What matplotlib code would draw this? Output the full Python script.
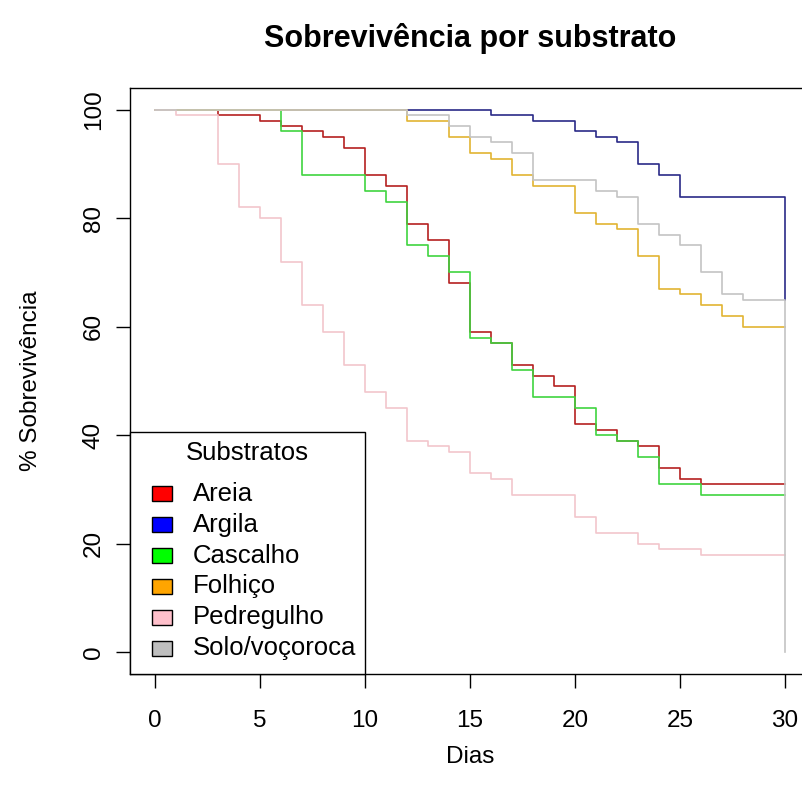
import matplotlib
matplotlib.use("Agg")
import matplotlib.pyplot as plt
from matplotlib.patches import Rectangle

plt.rcParams["font.family"] = ["Liberation Sans", "DejaVu Sans"]

# survival curves (% alive) per substrate, step changes by day
areia_t = [0, 3, 5, 6, 7, 8, 9, 10, 11, 12, 13, 14, 15, 16, 17, 18, 19, 20, 21, 22, 23, 24, 25, 26, 30]
areia_v = [100, 99, 98, 97, 96, 95, 93, 88, 86, 79, 76, 68, 59, 57, 53, 51, 49, 42, 41, 39, 38, 34, 32, 31, 31]

argila_t = [0, 16, 18, 20, 21, 22, 23, 24, 25, 30]
argila_v = [100, 99, 98, 96, 95, 94, 90, 88, 84, 65]

cascalho_t = [0, 6, 7, 10, 11, 12, 13, 14, 15, 16, 17, 18, 20, 21, 22, 23, 24, 26, 30]
cascalho_v = [100, 96, 88, 85, 83, 75, 73, 70, 58, 57, 52, 47, 45, 40, 39, 36, 31, 29, 29]

folhico_t = [0, 12, 14, 15, 16, 17, 18, 20, 21, 22, 23, 24, 25, 26, 27, 28, 30]
folhico_v = [100, 98, 95, 92, 91, 88, 86, 81, 79, 78, 73, 67, 66, 64, 62, 60, 60]

pedreg_t = [0, 1, 3, 4, 5, 6, 7, 8, 9, 10, 11, 12, 13, 14, 15, 16, 17, 20, 21, 23, 24, 26, 30]
pedreg_v = [100, 99, 90, 82, 80, 72, 64, 59, 53, 48, 45, 39, 38, 37, 33, 32, 29, 25, 22, 20, 19, 18, 18]

solo_t = [0, 12, 14, 15, 16, 17, 18, 21, 22, 23, 24, 25, 26, 27, 28, 30]
solo_v = [100, 99, 97, 95, 94, 92, 87, 85, 84, 79, 77, 75, 70, 66, 65, 0]

labels = ["Areia", "Argila", "Cascalho", "Folhiço", "Pedregulho", "Solo/voçoroca"]
line_colors = ["#b52020", "#2a2a88", "#3fd43f", "#e2b432", "#f2c6cc", "#c4c4c4"]
fill_colors = ["red", "blue", "#00ff00", "orange", "pink", "#bebebe"]
series = [(areia_t, areia_v), (argila_t, argila_v), (cascalho_t, cascalho_v),
          (folhico_t, folhico_v), (pedreg_t, pedreg_v), (solo_t, solo_v)]

W, H = 802, 793
fig = plt.figure(figsize=(W / 100, H / 100), dpi=100)
# plot box in pixels: left 130, right 810 (off the image), top 88, bottom 674
ax = fig.add_axes([130 / W, 1 - 674 / H, 680 / W, (674 - 88) / H])

for (t, v), c in zip(series, line_colors):
    ax.step(t, v, where="post", color=c, lw=1.2)

ax.set_xlim(-1.2, 31.2)
ax.set_ylim(-4, 104)
ax.set_xticks(range(0, 31, 5))
ax.set_yticks(range(0, 101, 20))
ax.tick_params(direction="out", length=10, width=1, labelsize=17.5)
ax.tick_params(axis="x", pad=16)
ax.tick_params(axis="y", labelrotation=90, pad=8)
for lab in ax.get_yticklabels():
    lab.set_va("center")
for s in ax.spines.values():
    s.set_linewidth(1)

fig.text(470 / W, 1 - 38 / H, "Sobrevivência por substrato", ha="center", va="center",
         fontsize=22, fontweight="bold")
fig.text(470 / W, 1 - 757 / H, "Dias", ha="center", va="center", fontsize=17.5)
fig.text(31 / W, 1 - 381 / H, "% Sobrevivência", ha="center", va="center",
         fontsize=17.5, rotation=90)


# legend drawn R-style, in pixel coordinates (y from top)
def px(x, y):
    return x / W, 1 - y / H


fig.patches.append(Rectangle(px(130, 674), 235 / W, 242 / H, transform=fig.transFigure,
                             facecolor="white", edgecolor="black", lw=1, zorder=5))
fig.text(*px(247, 453), "Substratos", ha="center", va="center", fontsize=18.5, zorder=6)
for i, (lab, fc) in enumerate(zip(labels, fill_colors)):
    yc = 494 + 30.8 * i
    fig.patches.append(Rectangle(px(152, yc + 7.5), 20 / W, 15 / H, transform=fig.transFigure,
                                 facecolor=fc, edgecolor="black", lw=1, zorder=6))
    fig.text(*px(193, yc), lab, ha="left", va="center", fontsize=18.5, zorder=6)

fig.savefig("out.png", dpi=100)
